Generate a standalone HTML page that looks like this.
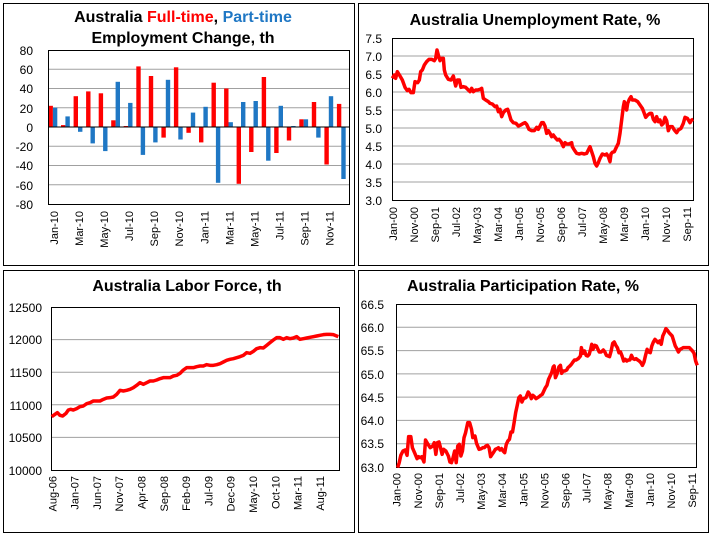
<!DOCTYPE html>
<html><head><meta charset="utf-8"><style>
body{margin:0;background:#fff}
svg{display:block;font-family:"Liberation Sans",sans-serif}
.t{font-weight:bold;font-size:16px;text-anchor:middle}
.y{font-size:12px;text-anchor:end}
.x{font-size:11px;text-anchor:end;dominant-baseline:central}
.g{stroke:#a0a0a0;stroke-width:1}
.l{fill:none;stroke:#ff0000;stroke-width:3.5;stroke-linejoin:round;vector-effect:non-scaling-stroke}
</style></head><body>
<svg width="711" height="536" viewBox="0 0 711 536">
<rect width="711" height="536" fill="#fff"/>
<rect x="3.5" y="3.5" width="351" height="262" fill="none" stroke="#000"/>
<rect x="358.5" y="3.5" width="350" height="262" fill="none" stroke="#000"/>
<rect x="3.5" y="270.5" width="351" height="262" fill="none" stroke="#000"/>
<rect x="358.5" y="270.5" width="350" height="262" fill="none" stroke="#000"/>

<!-- Chart 1 -->
<text class="t" x="183" y="22">Australia <tspan fill="#ff0000">Full-time</tspan>, <tspan fill="#1f77c4">Part-time</tspan></text>
<text class="t" x="183" y="43">Employment Change, th</text>
<g class="g">
<line x1="48" x2="349" y1="69.25" y2="69.25"/><line x1="48" x2="349" y1="88.5" y2="88.5"/><line x1="48" x2="349" y1="107.75" y2="107.75"/>
<line x1="48" x2="349" y1="146.25" y2="146.25"/><line x1="48" x2="349" y1="165.5" y2="165.5"/><line x1="48" x2="349" y1="184.75" y2="184.75"/>
</g>
<g fill="#ff0000">
<rect x="48.5" y="105.8" width="4.4" height="21.2"/><rect x="61" y="125.1" width="4.4" height="1.9"/><rect x="73.6" y="96.2" width="4.4" height="30.8"/><rect x="86.1" y="91.4" width="4.4" height="35.6"/><rect x="98.7" y="93.3" width="4.4" height="33.7"/><rect x="111.2" y="120.3" width="4.4" height="6.7"/><rect x="123.7" y="126" width="4.4" height="1"/><rect x="136.3" y="66.4" width="4.4" height="60.6"/><rect x="148.8" y="76" width="4.4" height="51"/><rect x="161.4" y="127" width="4.4" height="10.6"/><rect x="173.9" y="67.3" width="4.4" height="59.7"/><rect x="186.4" y="127" width="4.4" height="5.8"/><rect x="199" y="127" width="4.4" height="15.4"/><rect x="211.5" y="82.7" width="4.4" height="44.3"/><rect x="224.1" y="88.5" width="4.4" height="38.5"/><rect x="236.6" y="127" width="4.4" height="56.8"/><rect x="249.1" y="127" width="4.4" height="25"/><rect x="261.7" y="77" width="4.4" height="50"/><rect x="274.2" y="127" width="4.4" height="26"/><rect x="286.8" y="127" width="4.4" height="13.5"/><rect x="299.3" y="119.3" width="4.4" height="7.7"/><rect x="311.8" y="102" width="4.4" height="25"/><rect x="324.4" y="127" width="4.4" height="37.5"/><rect x="336.9" y="103.9" width="4.4" height="23.1"/>
</g>
<g fill="#1f77c4">
<rect x="52.9" y="107.7" width="4.4" height="19.3"/><rect x="65.4" y="116.4" width="4.4" height="10.6"/><rect x="78" y="127" width="4.4" height="4.8"/><rect x="90.5" y="127" width="4.4" height="16.4"/><rect x="103.1" y="127" width="4.4" height="24.1"/><rect x="115.6" y="81.8" width="4.4" height="45.2"/><rect x="128.1" y="102.9" width="4.4" height="24.1"/><rect x="140.7" y="127" width="4.4" height="27.9"/><rect x="153.2" y="127" width="4.4" height="15.4"/><rect x="165.8" y="79.8" width="4.4" height="47.2"/><rect x="178.3" y="127" width="4.4" height="12.5"/><rect x="190.8" y="112.6" width="4.4" height="14.4"/><rect x="203.4" y="106.8" width="4.4" height="20.2"/><rect x="215.9" y="127" width="4.4" height="55.8"/><rect x="228.5" y="122.2" width="4.4" height="4.8"/><rect x="241" y="102" width="4.4" height="25"/><rect x="253.5" y="101" width="4.4" height="26"/><rect x="266.1" y="127" width="4.4" height="33.7"/><rect x="278.6" y="105.8" width="4.4" height="21.2"/><rect x="291.2" y="126" width="4.4" height="1"/><rect x="303.7" y="119.3" width="4.4" height="7.7"/><rect x="316.2" y="127" width="4.4" height="10.6"/><rect x="328.8" y="96.2" width="4.4" height="30.8"/><rect x="341.3" y="127" width="4.4" height="52"/>
</g>
<line x1="48" x2="349" y1="127" y2="127" stroke="#000"/>
<rect x="48.5" y="50.5" width="301" height="154" fill="none" stroke="#000"/>
<g class="y"><text x="33" y="55">80</text><text x="33" y="74">60</text><text x="33" y="93">40</text><text x="33" y="113">20</text><text x="33" y="132">0</text><text x="33" y="151">-20</text><text x="33" y="170">-40</text><text x="33" y="190">-60</text><text x="33" y="209">-80</text></g>
<g class="x">
<text transform="translate(54.8,211) rotate(-90)">Jan-10</text><text transform="translate(79.9,211) rotate(-90)">Mar-10</text><text transform="translate(105,211) rotate(-90)">May-10</text><text transform="translate(130,211) rotate(-90)">Jul-10</text><text transform="translate(155.1,211) rotate(-90)">Sep-10</text><text transform="translate(180.2,211) rotate(-90)">Nov-10</text><text transform="translate(205.3,211) rotate(-90)">Jan-11</text><text transform="translate(230.4,211) rotate(-90)">Mar-11</text><text transform="translate(255.4,211) rotate(-90)">May-11</text><text transform="translate(280.5,211) rotate(-90)">Jul-11</text><text transform="translate(305.6,211) rotate(-90)">Sep-11</text><text transform="translate(330.7,211) rotate(-90)">Nov-11</text>
</g>

<!-- Chart 2 -->
<text class="t" x="535" y="25">Australia Unemployment Rate, %</text>
<g class="g">
<line x1="392" x2="694" y1="56" y2="56"/><line x1="392" x2="694" y1="74" y2="74"/><line x1="392" x2="694" y1="92" y2="92"/><line x1="392" x2="694" y1="110" y2="110"/><line x1="392" x2="694" y1="128" y2="128"/><line x1="392" x2="694" y1="146" y2="146"/><line x1="392" x2="694" y1="164" y2="164"/><line x1="392" x2="694" y1="182" y2="182"/>
</g>
<rect x="392.5" y="38.5" width="301" height="162" fill="none" stroke="#000"/>
<g transform="translate(355,0) scale(0.33333)"><polyline class="l" points="112,235 118,225 122,235 127,215 135,228 142,240 150,262 157,272 162,268 168,278 175,278 180,245 188,248 193,240 197,215 202,210 208,195 215,185 222,178 230,178 238,182 242,175 246,150 250,165 255,182 260,175 265,175 268,210 272,225 280,238 288,240 295,228 302,258 307,240 313,240 318,262 325,260 332,262 340,270 345,275 350,265 355,275 362,270 368,270 375,268 380,265 385,295 392,300 400,305 405,310 412,312 420,320 425,318 430,335 435,328 440,350 445,338 452,330 458,328 462,340 468,360 475,368 483,370 490,378 497,375 505,370 510,368 515,373 522,388 530,392 538,392 545,382 550,388 555,378 560,368 565,368 570,378 575,400 580,392 585,400 590,410 595,405 600,412 607,420 612,418 618,425 625,440 630,428 635,432 642,432 650,428 652,440 658,450 665,460 672,462 680,460 688,462 695,460 700,450 705,440 710,455 715,470 720,490 725,498 730,488 735,475 742,462 750,465 755,462 760,470 765,485 768,462 772,457 778,455 785,440 790,430 795,400 800,360 805,320 808,305 812,320 815,330 818,310 823,298 828,290 832,300 840,300 848,305 855,315 862,325 866,335 872,352 878,345 885,340 890,340 895,358 900,365 905,350 910,365 915,360 920,375 925,370 930,352 935,362 940,392 945,380 952,380 958,390 965,398 970,390 978,385 985,370 990,352 997,355 1005,368 1010,360 1015,358"/></g>
<g class="y"><text x="382" y="43">7.5</text><text x="382" y="61">7.0</text><text x="382" y="79">6.5</text><text x="382" y="97">6.0</text><text x="382" y="115">5.5</text><text x="382" y="133">5.0</text><text x="382" y="151">4.5</text><text x="382" y="169">4.0</text><text x="382" y="187">3.5</text><text x="382" y="205">3.0</text></g>
<g class="x">
<text transform="translate(394,207) rotate(-90)">Jan-00</text><text transform="translate(415,207) rotate(-90)">Nov-00</text><text transform="translate(436,207) rotate(-90)">Sep-01</text><text transform="translate(457,207) rotate(-90)">Jul-02</text><text transform="translate(478,207) rotate(-90)">May-03</text><text transform="translate(499,207) rotate(-90)">Mar-04</text><text transform="translate(520,207) rotate(-90)">Jan-05</text><text transform="translate(541,207) rotate(-90)">Nov-05</text><text transform="translate(562,207) rotate(-90)">Sep-06</text><text transform="translate(583,207) rotate(-90)">Jul-07</text><text transform="translate(604,207) rotate(-90)">May-08</text><text transform="translate(625,207) rotate(-90)">Mar-09</text><text transform="translate(646,207) rotate(-90)">Jan-10</text><text transform="translate(667,207) rotate(-90)">Nov-10</text><text transform="translate(688,207) rotate(-90)">Sep-11</text>
</g>

<!-- Chart 3 -->
<text class="t" x="187" y="291">Australia Labor Force, th</text>
<g class="g">
<line x1="51" x2="340" y1="339.6" y2="339.6"/><line x1="51" x2="340" y1="372.2" y2="372.2"/><line x1="51" x2="340" y1="404.8" y2="404.8"/><line x1="51" x2="340" y1="437.4" y2="437.4"/>
</g>
<rect x="51.5" y="307.5" width="288" height="163" fill="none" stroke="#000"/>
<g transform="translate(0,266) scale(0.33333)"><polyline class="l" points="155,452 165,445 172,440 180,448 188,450 198,442 205,432 212,430 220,432 230,428 240,422 250,420 260,413 270,410 280,405 290,405 300,405 310,400 320,396 330,395 340,393 350,385 360,373 370,375 380,373 390,370 400,365 410,358 420,350 430,355 440,350 450,345 460,345 470,342 480,338 490,335 500,335 510,335 520,330 530,328 540,322 550,312 560,305 570,305 580,305 590,302 600,300 610,300 620,296 630,298 640,298 650,296 660,293 670,288 680,283 690,280 700,278 710,275 720,272 730,268 740,260 750,262 760,256 770,248 780,245 790,246 800,238 810,230 820,222 830,215 840,215 850,220 860,215 870,218 880,216 890,212 900,220 910,218 920,216 930,214 940,212 950,210 960,208 970,206 980,205 990,205 1000,206 1010,210 1015,212"/></g>
<g class="y"><text x="42" y="312">12500</text><text x="42" y="344">12000</text><text x="42" y="377">11500</text><text x="42" y="410">11000</text><text x="42" y="442">10500</text><text x="42" y="475">10000</text></g>
<g class="x">
<text transform="translate(53.3,476) rotate(-90)">Aug-06</text><text transform="translate(75.6,476) rotate(-90)">Jan-07</text><text transform="translate(97.9,476) rotate(-90)">Jun-07</text><text transform="translate(120.2,476) rotate(-90)">Nov-07</text><text transform="translate(142.5,476) rotate(-90)">Apr-08</text><text transform="translate(164.8,476) rotate(-90)">Sep-08</text><text transform="translate(187.1,476) rotate(-90)">Feb-09</text><text transform="translate(209.4,476) rotate(-90)">Jul-09</text><text transform="translate(231.7,476) rotate(-90)">Dec-09</text><text transform="translate(254,476) rotate(-90)">May-10</text><text transform="translate(276.3,476) rotate(-90)">Oct-10</text><text transform="translate(298.6,476) rotate(-90)">Mar-11</text><text transform="translate(320.9,476) rotate(-90)">Aug-11</text>
</g>

<!-- Chart 4 -->
<text class="t" x="523" y="291">Australia Participation Rate, %</text>
<g class="g">
<line x1="396" x2="697" y1="327.3" y2="327.3"/><line x1="396" x2="697" y1="350.6" y2="350.6"/><line x1="396" x2="697" y1="373.9" y2="373.9"/><line x1="396" x2="697" y1="397.1" y2="397.1"/><line x1="396" x2="697" y1="420.4" y2="420.4"/><line x1="396" x2="697" y1="443.7" y2="443.7"/>
</g>
<rect x="396.5" y="304.5" width="300" height="163" fill="none" stroke="#000"/>
<g transform="translate(355,266) scale(0.33333)"><g transform="translate(128,0) scale(0.939,1) translate(-128,0)"><polyline class="l" points="128,605 133,590 138,568 145,555 152,552 158,568 163,512 170,512 175,545 182,560 190,578 195,572 200,575 205,572 212,588 217,522 225,535 232,545 240,540 245,530 250,565 255,530 260,528 265,545 270,565 275,550 282,555 290,570 295,588 300,590 305,575 310,555 315,590 320,540 325,535 330,570 335,555 340,515 345,500 352,470 358,470 364,490 368,515 375,510 380,532 388,550 395,548 400,545 405,545 410,540 415,538 420,545 425,572 430,565 435,558 440,550 445,548 450,545 455,552 460,548 465,555 470,560 475,535 480,525 485,520 490,498 495,498 500,470 505,440 510,418 515,395 520,390 525,408 530,398 538,395 545,378 550,385 555,398 560,388 565,392 570,398 575,395 580,392 585,388 590,385 595,375 600,365 605,358 610,340 615,330 620,320 625,303 628,300 632,335 638,322 643,303 648,298 652,322 656,315 662,315 668,312 672,305 678,300 683,295 688,288 693,282 698,282 705,278 712,270 715,245 720,262 725,255 730,268 735,270 740,265 745,248 748,235 752,250 758,238 763,240 768,250 772,258 778,258 785,252 790,258 795,268 800,270 805,272 810,255 815,232 820,228 825,238 830,245 835,260 840,258 845,270 850,285 855,280 860,285 865,282 870,282 875,268 880,278 885,280 890,278 895,282 900,285 905,290 910,298 915,288 920,268 925,250 930,258 935,260 940,240 945,228 950,220 955,225 960,230 965,225 970,235 975,210 980,200 985,188 990,193 995,200 1000,205 1005,210 1010,225 1015,240 1020,248 1025,258 1030,250 1035,248 1040,245 1050,245 1060,245 1065,250 1070,255 1075,262 1080,285 1085,298"/></g></g>
<g class="y"><text x="384" y="309">66.5</text><text x="384" y="332">66.0</text><text x="384" y="355">65.5</text><text x="384" y="379">65.0</text><text x="384" y="402">64.5</text><text x="384" y="425">64.0</text><text x="384" y="448">63.5</text><text x="384" y="472">63.0</text></g>
<g class="x">
<text transform="translate(397.7,473) rotate(-90)">Jan-00</text><text transform="translate(418.8,473) rotate(-90)">Nov-00</text><text transform="translate(439.9,473) rotate(-90)">Sep-01</text><text transform="translate(461,473) rotate(-90)">Jul-02</text><text transform="translate(482.1,473) rotate(-90)">May-03</text><text transform="translate(503.2,473) rotate(-90)">Mar-04</text><text transform="translate(524.3,473) rotate(-90)">Jan-05</text><text transform="translate(545.4,473) rotate(-90)">Nov-05</text><text transform="translate(566.5,473) rotate(-90)">Sep-06</text><text transform="translate(587.6,473) rotate(-90)">Jul-07</text><text transform="translate(608.7,473) rotate(-90)">May-08</text><text transform="translate(629.8,473) rotate(-90)">Mar-09</text><text transform="translate(650.9,473) rotate(-90)">Jan-10</text><text transform="translate(672,473) rotate(-90)">Nov-10</text><text transform="translate(693.1,473) rotate(-90)">Sep-11</text>
</g>
</svg>
</body></html>
